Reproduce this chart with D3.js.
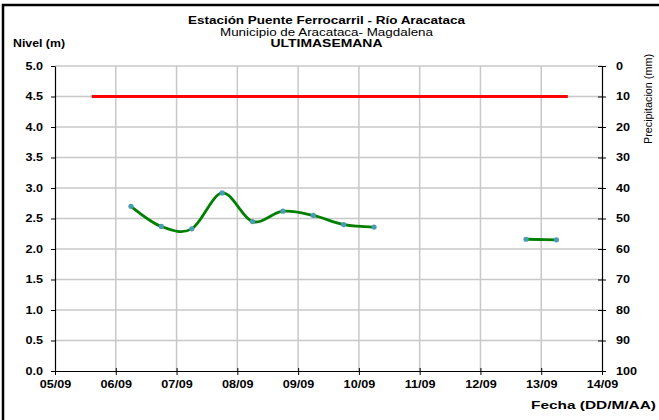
<!DOCTYPE html>
<html>
<head>
<meta charset="utf-8">
<script src="https://cdn.jsdelivr.net/npm/d3@7"></script>
<style>
  body { margin: 0; background: #fff; }
  svg { display: block; font-family: "Liberation Sans", Arial, sans-serif; }
  .tick text { font-weight: bold; font-size: 10.5px; fill: #000; }
  .grid line { stroke: #c8c8c8; stroke-width: 1.5; }
</style>
</head>
<body>
<svg id="chart" width="659" height="420"></svg>
<script>
'use strict';

// fechas de las lecturas (dia/mes hora), null = sin dato
var levelDates = ['06/09 06:00', '06/09 18:00', '07/09 06:00', '07/09 18:00', '08/09 06:00',
  '08/09 18:00', '09/09 06:00', '09/09 18:00', '10/09 06:00', null,
  '12/09 18:00', '13/09 06:00'];
var levelValues = [2.70, 2.37, 2.33, 2.92, 2.45, 2.62, 2.55, 2.40, 2.36, null, 2.16, 2.15];

// nivel de alerta
var alertDates = ['05/09 14:30', '13/09 10:30'];
var alertValues = [4.5, 4.5];

var dayTicks = ['05/09', '06/09', '07/09', '08/09', '09/09', '10/09', '11/09', '12/09', '13/09', '14/09'];
var levelTicks = [0, 0.5, 1, 1.5, 2, 2.5, 3, 3.5, 4, 4.5, 5];
var rainTicks = [0, 10, 20, 30, 40, 50, 60, 70, 80, 90, 100];

function drawChart() {
  var parseTime = d3.utcParse('%d/%m %H:%M');
  var parseDay = d3.utcParse('%d/%m');

  var svg = d3.select('#chart');
  var pLeft = 55, pRight = 602, pTop = 66, pBottom = 371;
  var stretch = 1.2; // el texto del original sale mas ancho

  var x = d3.scaleUtc()
    .domain([parseDay(dayTicks[0]), parseDay(dayTicks[dayTicks.length - 1])])
    .range([pLeft, pRight]);
  var y = d3.scaleLinear().domain([0, 5]).range([pBottom, pTop]);
  var yRain = d3.scaleLinear().domain([0, 100]).range([pTop, pBottom]);

  // marco
  svg.append('rect')
    .attr('x', 3).attr('y', 5).attr('width', 700).attr('height', 500)
    .attr('fill', 'none').attr('stroke', '#000').attr('stroke-width', 2.5);

  // rejilla
  var grid = svg.append('g').attr('class', 'grid');
  grid.selectAll('line.v')
    .data(dayTicks.slice(1, -1))
    .enter().append('line')
    .attr('x1', function(d) { return x(parseDay(d)); })
    .attr('x2', function(d) { return x(parseDay(d)); })
    .attr('y1', pTop).attr('y2', pBottom);
  grid.selectAll('line.h')
    .data(levelTicks.slice(1))
    .enter().append('line')
    .attr('x1', pLeft).attr('x2', pRight)
    .attr('y1', function(d) { return y(d); })
    .attr('y2', function(d) { return y(d); });

  // ejes
  var xAxis = svg.append('g')
    .attr('transform', 'translate(0,' + pBottom + ')')
    .call(d3.axisBottom(x)
      .tickValues(dayTicks.map(parseDay))
      .tickFormat(d3.utcFormat('%d/%m'))
      .tickSizeInner(4).tickSizeOuter(0).tickPadding(6));
  xAxis.selectAll('.tick line').attr('y1', -3);

  svg.append('g')
    .attr('transform', 'translate(' + pLeft + ',0)')
    .call(d3.axisLeft(y)
      .tickValues(levelTicks)
      .tickFormat(d3.format('.1f'))
      .tickSizeInner(4).tickSizeOuter(0).tickPadding(8));

  var rAxis = svg.append('g')
    .attr('transform', 'translate(' + pRight + ',0)')
    .call(d3.axisRight(yRain)
      .tickValues(rainTicks)
      .tickFormat(d3.format('d'))
      .tickSizeInner(4).tickSizeOuter(0).tickPadding(10));
  rAxis.selectAll('.tick line').attr('x1', -4);

  svg.selectAll('.domain').attr('stroke', '#000').attr('stroke-width', 1.2);

  svg.selectAll('.tick text').each(function() {
    var w = this.getComputedTextLength();
    d3.select(this)
      .attr('textLength', w * stretch)
      .attr('lengthAdjust', 'spacingAndGlyphs');
  });

  // linea de alerta
  var alertPts = alertDates.map(function(d, i) { return { t: parseTime(d), v: alertValues[i] }; });
  svg.append('path')
    .datum(alertPts)
    .attr('fill', 'none').attr('stroke', '#ff0000').attr('stroke-width', 3)
    .attr('d', d3.line()
      .x(function(d) { return x(d.t); })
      .y(function(d) { return y(d.v); }));

  // nivel
  var levelPts = levelDates.map(function(d, i) {
    return { t: d ? parseTime(d) : null, v: levelValues[i] };
  });
  svg.append('path')
    .datum(levelPts)
    .attr('fill', 'none').attr('stroke', '#008000').attr('stroke-width', 2.8)
    .attr('d', d3.line()
      .defined(function(d) { return d.v !== null; })
      .curve(d3.curveCardinal)
      .x(function(d) { return x(d.t); })
      .y(function(d) { return y(d.v); }));

  svg.selectAll('circle.pt')
    .data(levelPts.filter(function(d) { return d.v !== null; }))
    .enter().append('circle')
    .attr('class', 'pt')
    .attr('cx', function(d) { return x(d.t); })
    .attr('cy', function(d) { return y(d.v); })
    .attr('r', 2.6)
    .attr('fill', '#4a9cb5');

  // textos
  function label(txt, px, py, opts) {
    opts = opts || {};
    var t = svg.append('text')
      .attr('x', px).attr('y', py)
      .attr('font-size', opts.size || 11)
      .attr('font-weight', opts.bold ? 'bold' : 'normal')
      .attr('text-anchor', opts.anchor || 'start')
      .text(txt);
    if (opts.len) t.attr('textLength', opts.len).attr('lengthAdjust', 'spacingAndGlyphs');
    if (opts.rotate) t.attr('transform', 'rotate(-90,' + px + ',' + py + ')');
    return t;
  }
  label('Estación Puente Ferrocarril - Río Aracataca', 326.5, 24, { bold: true, anchor: 'middle', len: 277 });
  label('Municipio de Aracataca- Magdalena', 326.5, 35.5, { anchor: 'middle', len: 213 });
  label('ULTIMASEMANA', 326.5, 46.5, { bold: true, anchor: 'middle', len: 112 });
  label('Nivel (m)', 13, 46.5, { bold: true, len: 52 });
  label('Precipitacion (mm)', 652, 99, { anchor: 'middle', rotate: true, len: 90 });
  label('Fecha (DD/M/AA)', 656, 409, { bold: true, anchor: 'end', len: 125 });
}

drawChart();
</script>
</body>
</html>
